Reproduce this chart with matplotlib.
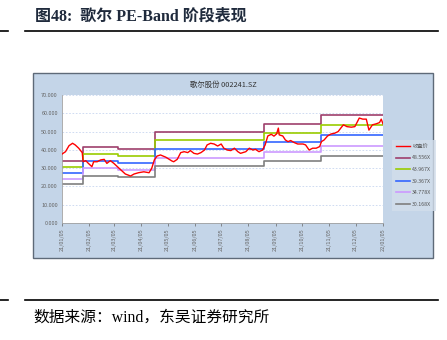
import matplotlib
matplotlib.use("Agg")
import matplotlib.pyplot as plt
import matplotlib.dates as mdates
from matplotlib.patches import Rectangle
from matplotlib.lines import Line2D
from matplotlib.ticker import FormatStrFormatter
import pandas as pd

plt.rcParams['font.family'] = ['Noto Sans CJK SC', 'DejaVu Sans']

# close price
price_dates = ['2021-01-05', '2021-01-09', '2021-01-13', '2021-01-17', '2021-01-20', '2021-01-24',
               '2021-01-28', '2021-01-29', '2021-02-01', '2021-02-04', '2021-02-08', '2021-02-10',
               '2021-02-14', '2021-02-18', '2021-02-22', '2021-02-25', '2021-03-01', '2021-03-05',
               '2021-03-09', '2021-03-13', '2021-03-18', '2021-03-24', '2021-03-28', '2021-04-02',
               '2021-04-08', '2021-04-14', '2021-04-17', '2021-04-20', '2021-04-23', '2021-04-27',
               '2021-05-03', '2021-05-07', '2021-05-10', '2021-05-12', '2021-05-16', '2021-05-20',
               '2021-05-24', '2021-05-28', '2021-05-31', '2021-06-04', '2021-06-08', '2021-06-12',
               '2021-06-16', '2021-06-19', '2021-06-23', '2021-06-27', '2021-07-01', '2021-07-05',
               '2021-07-08', '2021-07-12', '2021-07-16', '2021-07-20', '2021-07-24', '2021-07-27',
               '2021-08-02', '2021-08-06', '2021-08-10', '2021-08-13', '2021-08-17', '2021-08-21',
               '2021-08-24', '2021-08-27', '2021-08-31', '2021-09-03', '2021-09-06', '2021-09-08',
               '2021-09-09', '2021-09-13', '2021-09-16', '2021-09-19', '2021-09-22', '2021-09-26',
               '2021-09-30', '2021-10-06', '2021-10-09', '2021-10-13', '2021-10-17', '2021-10-21',
               '2021-10-25', '2021-10-27', '2021-10-30', '2021-11-03', '2021-11-07', '2021-11-11',
               '2021-11-15', '2021-11-18', '2021-11-21', '2021-11-25', '2021-11-30', '2021-12-04',
               '2021-12-07', '2021-12-09', '2021-12-13', '2021-12-17', '2021-12-20', '2021-12-24',
               '2021-12-28', '2022-01-01', '2022-01-03', '2022-01-05']
price = [37.7, 39.0, 42.3, 43.6, 42.7, 40.9,
         38.5, 33.5, 34.1, 32.6, 30.8, 33.5,
         33.5, 34.5, 34.8, 32.6, 34.1, 32.6,
         30.8, 29.0, 26.8, 25.7, 26.8, 27.5,
         28.0, 27.5, 29.9, 34.5, 36.6, 37.2,
         36.0, 34.8, 33.9, 33.5, 34.8, 38.5,
         39.0, 38.5, 39.6, 38.1, 37.7, 38.5,
         39.9, 42.7, 43.6, 43.2, 42.1, 43.2,
         40.9, 39.9, 39.6, 40.9, 39.0, 38.1,
         39.0, 40.9, 39.9, 40.3, 39.0, 39.9,
         42.7, 47.6, 48.5, 47.5, 48.7, 51.9,
         48.2, 47.6, 45.4, 44.5, 45.1, 44.0,
         43.2, 43.2, 42.7, 39.9, 40.9, 40.9,
         41.8, 44.5, 45.4, 47.6, 48.7, 49.1,
         50.0, 51.9, 53.7, 52.7, 52.4, 52.7,
         55.5, 57.4, 56.8, 56.8, 50.8, 53.7,
         54.2, 54.9, 56.8, 54.2]

# PE bands, one value per segment
seg_starts = ['2021-01-05', '2021-01-29', '2021-03-10', '2021-04-21', '2021-08-23', '2021-10-26', '2022-01-05']
band_labels = ['48.556X', '43.967X', '39.367X', '34.778X', '30.168X']
band_values = [
    [34.0, 41.8, 40.3, 49.9, 54.2, 59.0],
    [30.8, 37.8, 36.5, 45.3, 49.1, 53.6],
    [27.6, 33.9, 32.7, 40.6, 44.1, 47.9],
    [24.3, 29.9, 28.9, 35.8, 38.9, 42.3],
    [21.1, 25.9, 25.0, 31.1, 33.8, 36.7],
]
band_colors = ['#9E3F6C', '#99CC00', '#3366FF', '#CC99FF', '#7F7F7F']

tick_dates = ['2021-01-05', '2021-02-05', '2021-03-05', '2021-04-05', '2021-05-05', '2021-06-05',
              '2021-07-05', '2021-08-05', '2021-09-05', '2021-10-05', '2021-11-05', '2021-12-05',
              '2022-01-05']

fig = plt.figure(figsize=(4.47, 3.40), dpi=100)
W, H = 447, 340

# page decorations
serif = ['Liberation Serif', 'Noto Sans CJK SC']
fig.text(35 / W, 1 - 17 / H, '图48:  歌尔 PE-Band 阶段表现', fontsize=11.5, fontweight='bold',
         color='#1f2a3c', va='center', ha='left', family=serif)
for yy in (31, 300):
    fig.add_artist(Line2D([0, 8 / W], [1 - yy / H] * 2, color='black', lw=1.2))
    fig.add_artist(Line2D([25 / W, 438 / W], [1 - yy / H] * 2, color='black', lw=1.2))
fig.text(33 / W, 1 - 318 / H, '数据来源：wind，东吴证券研究所', fontsize=11.3, color='black',
         va='center', ha='left', family=serif)

# chart panel
fig.add_artist(Rectangle((33 / W, 1 - 258 / H), 400 / W, 185 / H, transform=fig.transFigure,
                         facecolor='#C4D5E8', edgecolor='#5E6a78', lw=1.0, zorder=0))
fig.text(223 / W, 1 - 85 / H, '歌尔股份 002241.SZ', fontsize=5.3, color='#333333',
         ha='center', va='center')

ax = fig.add_axes([62 / W, 1 - 223 / H, 321 / W, 128 / H])
ax.set_facecolor('white')

pd_dates = pd.to_datetime(price_dates)
seg_dates = pd.to_datetime(seg_starts)

ax.plot(pd_dates, price, color='#FF0000', lw=1.0, label='收盘价', zorder=5)
for vals, col, lab in zip(band_values, band_colors, band_labels):
    ax.step(seg_dates, vals + [vals[-1]], where='post', color=col, lw=1.2, label=lab)

ax.set_ylim(0, 70)
ax.set_yticks(range(0, 71, 10))
ax.yaxis.set_major_formatter(FormatStrFormatter('%.3f'))
ax.set_xlim(pd.Timestamp('2021-01-05'), pd.Timestamp('2022-01-05'))
ax.set_xticks(pd.to_datetime(tick_dates))
ax.xaxis.set_major_formatter(mdates.DateFormatter('%y/%m/%d'))
ax.tick_params(axis='x', labelsize=4, rotation=90, colors='#666666', length=2, width=0.5, pad=2)
ax.tick_params(axis='y', labelsize=4, colors='#666666', length=0, pad=3)
ax.grid(axis='y', color='#C8D6F0', ls=(0, (2, 2)), lw=0.6)
for s in ('top', 'right'):
    ax.spines[s].set_visible(False)
for s in ('left', 'bottom'):
    ax.spines[s].set_color('#A0A0A0')
    ax.spines[s].set_linewidth(0.6)

leg = fig.legend(loc='upper left', bbox_to_anchor=(389 / W, 1 - 137 / H), fontsize=3.8,
                 frameon=True, facecolor='#D3DEEB', edgecolor='none', fancybox=False,
                 handlelength=2.6, labelspacing=1.25, borderpad=0.8, handletextpad=0.5)
for t in leg.get_texts():
    t.set_color('#555555')

fig.savefig('out.png', dpi=100)
